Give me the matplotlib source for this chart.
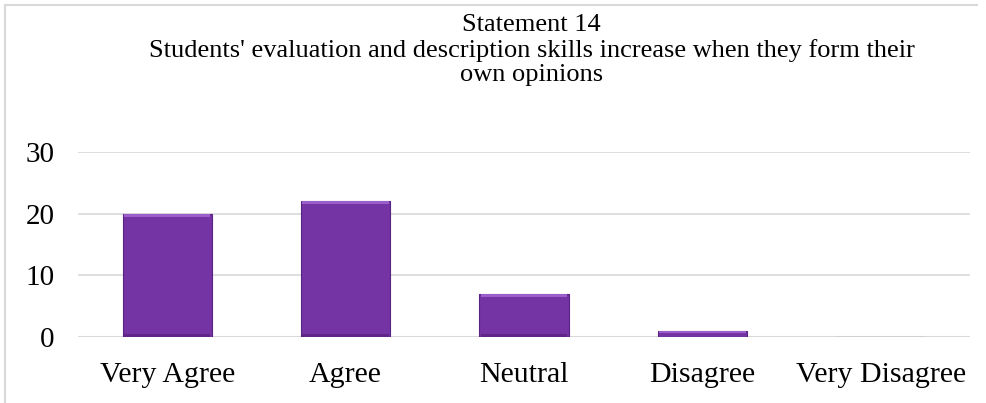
import matplotlib
matplotlib.use("Agg")
import matplotlib.pyplot as plt
from matplotlib.lines import Line2D

categories = ["Very Agree", "Agree", "Neutral", "Disagree", "Very Disagree"]
values = [20, 22, 7, 1, 0]
yticks = [0, 10, 20, 30]
title = "Statement 14\nStudents' evaluation and description skills increase when they form their\nown opinions"

plt.rcParams['font.family'] = ['Liberation Serif', 'DejaVu Serif']

fig = plt.figure(figsize=(9.87, 4.03), dpi=100)
ax = fig.add_axes([78/987, 1-337/403, (970-78)/987, (337-152)/403])

x = list(range(len(categories)))
bars = ax.bar(x, values, width=0.5, color="#7434a4", edgecolor="#5a2282", linewidth=0.8, zorder=3)
# bevel highlights
for b in bars:
    h = b.get_height()
    if h > 0:
        t = min(0.5, h * 0.4)
        ax.bar(b.get_x() + b.get_width()/2, t, width=b.get_width()*0.97,
               bottom=h - t, color="#9b5fcb", linewidth=0, zorder=4)
        if h > 2:
            ax.bar(b.get_x() + b.get_width()/2, 0.5, width=b.get_width()*0.97,
                   bottom=0, color="#5f2589", linewidth=0, zorder=4)

ax.set_xlim(-0.5, len(categories) - 0.5)
ax.set_ylim(0, 30)
ax.set_yticks(yticks)
ax.set_xticks(x)
ax.set_xticklabels(categories, fontsize=21.5)
ax.tick_params(axis='y', labelsize=21, length=0, pad=17)
ax.tick_params(axis='x', length=0, pad=18)
ax.grid(axis='y', color="#d9d9d9", linewidth=1.2, zorder=0)
for s in ax.spines.values():
    s.set_visible(False)
ax.axhline(0, color="#d9d9d9", linewidth=1.5, zorder=2)

fig.text(0.5 + 38/987, 1 - 14/403, title, ha='center', va='top', fontsize=19, linespacing=1.15)

# chart frame (top and left edges visible)
fig.add_artist(Line2D([5/987, 977/987], [1 - 5/403, 1 - 5/403], transform=fig.transFigure,
                      color="#d9d9d9", linewidth=1.5))
fig.add_artist(Line2D([5/987, 5/987], [0, 1 - 5/403], transform=fig.transFigure,
                      color="#d9d9d9", linewidth=1.5))

fig.savefig("out.png", dpi=100)
